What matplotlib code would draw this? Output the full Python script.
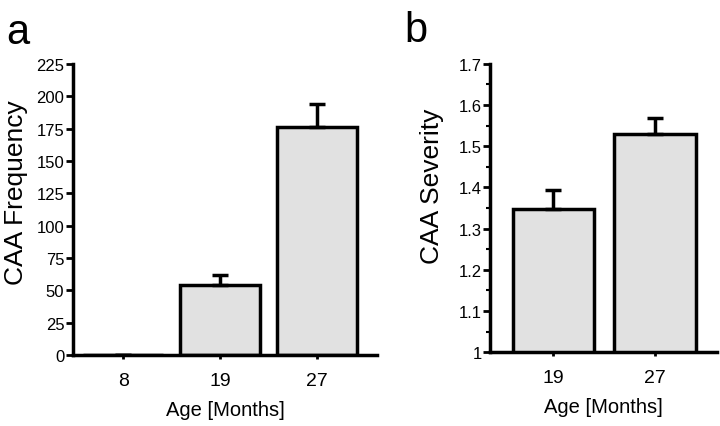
import matplotlib.pyplot as plt
from matplotlib.ticker import MultipleLocator

plt.rcParams['font.family'] = ['Liberation Sans', 'DejaVu Sans']

# Panel a data
ages_a = ["8", "19", "27"]
freq = [0.3, 54, 176]
freq_err = [0, 8, 18]

# Panel b data
ages_b = ["19", "27"]
severity = [1.348, 1.530]
severity_err = [0.046, 0.039]

bar_color = "#e1e1e1"

fig = plt.figure(figsize=(7.2, 4.27), dpi=100)

# Panel a
ax1 = fig.add_axes([0.101, 0.166, 0.423, 0.682])
x1 = range(len(ages_a))
ax1.bar(x1, freq, width=0.82, color=bar_color, edgecolor="black", linewidth=2.5,
        yerr=[[0] * len(freq_err), freq_err],
        error_kw=dict(ecolor="black", elinewidth=2.5, capsize=5.5, capthick=2.5))
ax1.set_ylim(0, 225)
ax1.set_xlim(-0.52, 2.62)
ax1.yaxis.set_major_locator(MultipleLocator(25))
ax1.set_xticks(list(x1))
ax1.set_xticklabels(ages_a)
ax1.set_ylabel("CAA Frequency", fontsize=19)
ax1.yaxis.set_label_coords(-0.148, 0.56)
ax1.set_xlabel("Age [Months]", fontsize=14.5, labelpad=8)
fig.text(0.008, 0.97, "a", fontsize=30, va="top")

# Panel b
ax2 = fig.add_axes([0.681, 0.173, 0.315, 0.675])
x2 = range(len(ages_b))
ax2.bar(x2, severity, width=0.8, color=bar_color, edgecolor="black", linewidth=2.5,
        yerr=[[0] * len(severity_err), severity_err],
        error_kw=dict(ecolor="black", elinewidth=2.5, capsize=5.5, capthick=2.5))
ax2.set_ylim(1, 1.7)
ax2.set_xlim(-0.62, 1.61)
ax2.yaxis.set_minor_locator(MultipleLocator(0.05))
ax2.set_yticks([1, 1.1, 1.2, 1.3, 1.4, 1.5, 1.6, 1.7])
ax2.set_yticklabels(["1", "1.1", "1.2", "1.3", "1.4", "1.5", "1.6", "1.7"])
ax2.set_xticks(list(x2))
ax2.set_xticklabels(ages_b)
ax2.set_ylabel("CAA Severity", fontsize=19)
ax2.yaxis.set_label_coords(-0.205, 0.58)
ax2.set_xlabel("Age [Months]", fontsize=14.5, labelpad=8)
fig.text(0.561, 0.975, "b", fontsize=30, va="top")

for ax in (ax1, ax2):
    ax.spines["top"].set_visible(False)
    ax.spines["right"].set_visible(False)
    ax.spines["left"].set_linewidth(2.5)
    ax.spines["bottom"].set_linewidth(2.5)
    ax.tick_params(axis="y", which="major", length=5, width=2, labelsize=12, pad=1)
    ax.tick_params(axis="y", which="minor", length=3, width=1.5)
    ax.tick_params(axis="x", length=3, width=2, labelsize=14, pad=9)

fig.savefig("out.png", dpi=100)
